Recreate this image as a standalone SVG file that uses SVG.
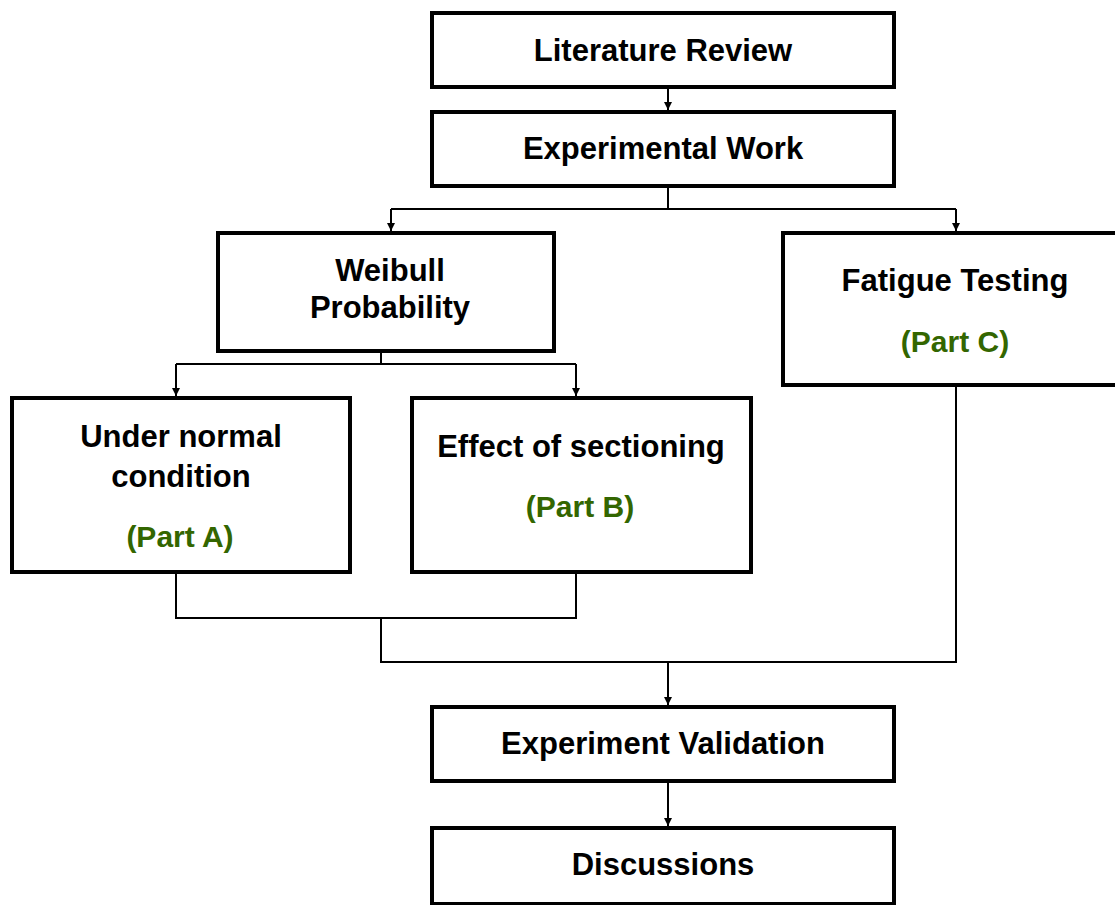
<svg xmlns="http://www.w3.org/2000/svg" width="1115" height="905" viewBox="0 0 1115 905">
<style>
.box{fill:#fff;stroke:#000;stroke-width:4}
.t{font-family:"Liberation Sans",Arial,sans-serif;font-weight:bold;font-size:31px;fill:#000;text-anchor:middle}
.g{font-size:30px;fill:#336600}
.c{fill:none;stroke:#000;stroke-width:2}
</style>
<defs>
<marker id="ah" markerUnits="userSpaceOnUse" markerWidth="10" markerHeight="10" refX="9" refY="5" orient="auto" viewBox="0 0 10 10">
<path d="M1,1 L9,5 L1,9 Z" fill="#000"/>
</marker>
</defs>
<rect width="1115" height="905" fill="#fff"/>
<g id="connectors">
<path class="c" d="M668,89 V110" marker-end="url(#ah)"/>
<path class="c" d="M668,188 V209 M391,209 H956"/>
<path class="c" d="M391,209 V231" marker-end="url(#ah)"/>
<path class="c" d="M956,209 V231" marker-end="url(#ah)"/>
<path class="c" d="M381,353 V364 M176,364 H576"/>
<path class="c" d="M176,364 V396" marker-end="url(#ah)"/>
<path class="c" d="M576,364 V396" marker-end="url(#ah)"/>
<path class="c" d="M176,574 V618 H576 V574 M381,618 V662 H956 V387"/>
<path class="c" d="M668,662 V705" marker-end="url(#ah)"/>
<path class="c" d="M668,783 V826" marker-end="url(#ah)"/>
</g>
<g id="literature-review">
<rect class="box" x="432" y="13" width="462" height="74"/>
<text class="t" x="663" y="61">Literature Review</text>
</g>
<g id="experimental-work">
<rect class="box" x="432" y="112" width="462" height="74"/>
<text class="t" x="663" y="159">Experimental Work</text>
</g>
<g id="weibull-probability">
<rect class="box" x="218" y="233" width="336" height="118"/>
<text class="t" x="390" y="281">Weibull</text>
<text class="t" x="390" y="318">Probability</text>
</g>
<g id="fatigue-testing">
<rect class="box" x="783" y="233" width="344" height="152"/>
<text class="t" x="955" y="291">Fatigue Testing</text>
<text class="t g" x="955" y="352">(Part C)</text>
</g>
<g id="under-normal-condition">
<rect class="box" x="12" y="398" width="338" height="174"/>
<text class="t" x="181" y="447">Under normal</text>
<text class="t" x="181" y="487">condition</text>
<text class="t g" x="180" y="547">(Part A)</text>
</g>
<g id="effect-of-sectioning">
<rect class="box" x="412" y="398" width="339" height="174"/>
<text class="t" x="581" y="457">Effect of sectioning</text>
<text class="t g" x="580" y="517">(Part B)</text>
</g>
<g id="experiment-validation">
<rect class="box" x="432" y="707" width="462" height="74"/>
<text class="t" x="663" y="754">Experiment Validation</text>
</g>
<g id="discussions">
<rect class="box" x="432" y="828" width="462" height="76"/>
<text class="t" x="663" y="875">Discussions</text>
</g>
</svg>
